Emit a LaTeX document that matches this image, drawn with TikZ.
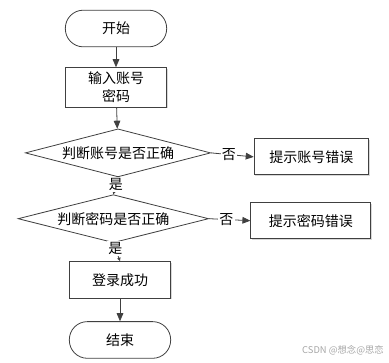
\documentclass[tikz,border=0pt]{standalone}
\usepackage{fontspec}
\setmainfont{Noto Sans CJK SC}
\usetikzlibrary{positioning, arrows.meta, shapes.geometric, shadows}
\definecolor{linegray}{RGB}{64, 64, 64}

\begin{document}
\begin{tikzpicture}[
    x=0.75pt, y=-0.75pt,
    node distance=15pt and 32pt,
    every node/.style={font=\fontsize{10.5}{13.5}\selectfont},
    terminal/.style={rectangle, rounded corners=13.5pt, draw=linegray, line width=0.6pt,
                     fill=white, minimum width=76pt, minimum height=27.5pt,
                     text centered, align=center},
    process/.style={rectangle, draw=linegray, line width=0.6pt, fill=white,
                    minimum width=76pt, minimum height=27.5pt, text centered, align=center,
                    drop shadow={shadow xshift=0.8pt, shadow yshift=-0.8pt, fill=black!30}},
    decision/.style={diamond, aspect=3.8, inner sep=0pt, draw=linegray, line width=0.6pt,
                     fill=white, minimum height=36pt, text centered},
    arr/.style={-{Triangle[length=6pt, width=5pt]}, line width=0.6pt, draw=linegray},
    smallarr/.style={-{Triangle[length=2.5pt, width=2.5pt]}, line width=0.6pt, draw=linegray},
    arrlbl/.style={fill=white, inner sep=1pt}
]
\useasboundingbox (0,0) rectangle (389,362);

% Start and input
\node[terminal] (start) at (116,28.5) {开始};
\node[process, below=15pt of start] (input) {输入账号\\密码};

% Two checks
\node[decision, minimum width=139pt, below=15.5pt of input, xshift=1.5pt] (chkacc) {判断账号是否正确};
\node[decision, minimum width=143pt, below=12.75pt of chkacc, xshift=-3.5pt] (chkpwd) {判断密码是否正确};

% Error messages
\node[process, minimum width=86pt, minimum height=27pt, right=32pt of chkacc, yshift=-3pt] (erracc) {提示账号错误};
\node[process, minimum width=90pt, minimum height=27pt, right=31pt of chkpwd, yshift=-1.5pt] (errpwd) {提示密码错误};

% Success and end
\node[process, below=13.5pt of chkpwd, xshift=5pt] (ok) {登录成功};
\node[terminal, below=17pt of ok] (stop) {结束};

% Arrows
\draw[arr] (start) -- (input);
\draw[arr] (input) -- (chkacc);
\draw[arr] (chkacc.east) -- node[arrlbl, pos=0.42]{否} (erracc.west);
\draw[arr] (chkpwd.east) -- node[arrlbl, pos=0.42]{否} (errpwd.west);
\draw[smallarr] (chkacc.south) -- node[arrlbl, pos=0.45]{是} (chkpwd.north);
\draw[smallarr] (chkpwd.south) -- node[arrlbl, pos=0.3]{是} (ok.north);
\draw[arr] (ok) -- (stop);

% Watermark
\node[font=\fontsize{7}{8}\selectfont, text=black!35] (mark) at (343,350) {CSDN @想念@思恋};

\end{tikzpicture}
\end{document}
